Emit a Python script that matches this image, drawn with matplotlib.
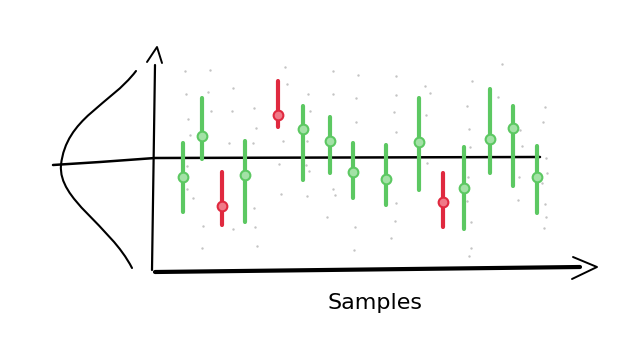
import matplotlib
matplotlib.use("Agg")
import matplotlib.pyplot as plt
from matplotlib.path import Path
from matplotlib.patches import PathPatch

# sample positions (canvas px) and their error bars
sample_x = [183, 202, 222, 245, 278, 303, 330, 353, 386, 419, 443, 464, 490, 513, 537]
sample_mid = [177, 136, 206, 175, 115, 129, 141, 172, 179, 142, 202, 188, 139, 128, 177]
sample_top = [143, 98, 172, 141, 81, 106, 117, 143, 145, 98, 173, 147, 89, 106, 146]
sample_bot = [212, 159, 225, 222, 127, 180, 173, 198, 205, 190, 227, 229, 173, 186, 213]
outlier = [0, 0, 1, 0, 1, 0, 0, 0, 0, 0, 1, 0, 0, 0, 0]

# faint background points
dots_x = [185, 210, 186, 208, 233, 211, 232, 254, 188, 256, 190, 229, 253, 285, 287, 283,
          308, 310, 333, 333, 307, 358, 356, 356, 187, 187, 193, 203, 233, 202, 254, 255,
          257, 279, 281, 306, 309, 307, 333, 335, 327, 355, 354, 396, 396, 394, 396, 425,
          430, 426, 502, 472, 498, 467, 469, 470, 522, 520, 545, 543, 546, 427, 396, 395,
          391, 468, 467, 471, 471, 469, 519, 542, 518, 545, 546, 544, 547]
dots_y = [71, 70, 94, 92, 88, 111, 111, 108, 119, 128, 135, 143, 143, 67, 84, 141,
          94, 111, 71, 94, 141, 75, 98, 122, 166, 189, 198, 226, 229, 248, 208, 227,
          246, 164, 194, 165, 171, 196, 189, 195, 217, 227, 250, 76, 95, 112, 132, 86,
          93, 115, 64, 81, 97, 106, 129, 147, 146, 130, 107, 122, 158, 163, 203, 221,
          238, 177, 201, 222, 248, 256, 177, 183, 200, 204, 217, 228, 173]

# bell curve on the left: start, controls, mid, controls, end
bell_pts = [(136, 71), (110, 105), (66, 118), (61, 165), (58, 200), (110, 225), (132, 268)]

GREEN = "#5cc862"
GREEN_FILL = "#a3e2a6"
RED = "#e0293f"
RED_FILL = "#f07a88"

fig = plt.figure(figsize=(6.4, 3.47), dpi=100)
ax = fig.add_axes([0, 0, 1, 1])
ax.set_xlim(0, 640)
ax.set_ylim(347, 0)
ax.axis("off")

ax.scatter(dots_x, dots_y, s=3, color="#c4c4c4", zorder=1, linewidths=0)

# mean line
ax.plot([53, 100, 155, 540], [165, 162, 158, 157], color="black", lw=1.8,
        solid_capstyle="round", zorder=2)

# y axis with arrow
ax.plot([155, 152], [65, 270], color="black", lw=1.6, solid_capstyle="round", zorder=2)
ax.plot([147, 157, 162], [62, 47, 63], color="black", lw=1.4, solid_capstyle="round",
        solid_joinstyle="round", zorder=2)

# x axis with arrow
ax.plot([155, 580], [272, 267], color="black", lw=3.0, solid_capstyle="round", zorder=2)
ax.plot([573, 597, 572], [257, 267, 279], color="black", lw=1.4, solid_capstyle="round",
        solid_joinstyle="round", zorder=2)

codes = [Path.MOVETO] + [Path.CURVE4] * 6
bell = PathPatch(Path(bell_pts, codes), fill=False, lw=1.5, edgecolor="black",
                 capstyle="round", zorder=2)
ax.add_patch(bell)

for x, m, t, b, o in zip(sample_x, sample_mid, sample_top, sample_bot, outlier):
    c = RED if o else GREEN
    f = RED_FILL if o else GREEN_FILL
    ax.plot([x, x], [t, b], color=c, lw=3.0, solid_capstyle="round", zorder=3)
    ax.plot([x], [m], marker="o", ms=7, mfc=f, mec=c, mew=1.5, zorder=4)

ax.text(375, 303, "Samples", ha="center", va="center", fontsize=16,
        family="DejaVu Sans", color="black")

fig.savefig("out.png", dpi=100)
